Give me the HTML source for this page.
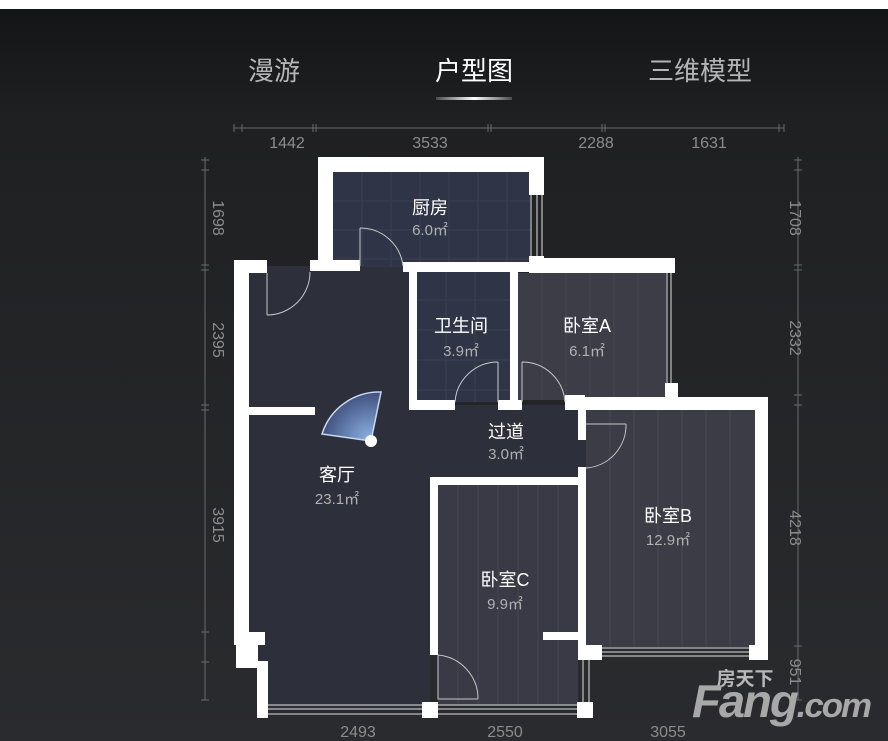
<!DOCTYPE html>
<html><head><meta charset="utf-8"><style>
html,body{margin:0;padding:0;width:888px;height:741px;overflow:hidden;background:#fff}
svg{display:block}
text{font-family:"Liberation Sans","Noto Sans CJK SC",sans-serif}
</style></head><body>
<svg width="888" height="741" viewBox="0 0 888 741" xmlns="http://www.w3.org/2000/svg">
<defs>
<linearGradient id="bg" x1="0" y1="0" x2="0" y2="1">
<stop offset="0" stop-color="#141517"/><stop offset="0.15" stop-color="#1f2022"/><stop offset="1" stop-color="#2a2b2e"/>
</linearGradient>
<linearGradient id="ul" x1="0" x2="1">
<stop offset="0" stop-color="#fff" stop-opacity="0.2"/><stop offset="0.5" stop-color="#fff"/><stop offset="1" stop-color="#fff" stop-opacity="0.2"/>
</linearGradient>
<radialGradient id="fan" cx="371" cy="441" r="60" gradientUnits="userSpaceOnUse">
<stop offset="0" stop-color="#8fb6e8"/><stop offset="1" stop-color="#2f3a66"/>
</radialGradient>
</defs>
<rect x="0" y="9" width="888" height="732" fill="url(#bg)"/>
<!-- tabs -->
<text x="274" y="80" font-size="26" fill="#b5b5b5" text-anchor="middle">漫游</text>
<text x="474" y="80" font-size="26" fill="#ffffff" text-anchor="middle">户型图</text>
<text x="700" y="80" font-size="26" fill="#b5b5b5" text-anchor="middle">三维模型</text>
<rect x="436" y="97" width="76" height="3" fill="url(#ul)"/>
<!-- dimension lines -->
<g stroke="#6a6a6a" stroke-width="1" fill="none">
<line x1="234" y1="128" x2="784" y2="128"/>
<path d="M234 124v8M242 124v8M313 124v8M316 124v8M488 124v8M491 124v8M602 124v8M605 124v8M779 124v8M784 124v8"/>
<line x1="205" y1="157" x2="205" y2="700"/>
<path d="M201 160h8M201 170h8M201 265h8M201 270h8M201 405h8M201 410h8M201 632h8M201 662h8M201 700h8"/>
<line x1="798" y1="157" x2="798" y2="700"/>
<path d="M794 160h8M794 170h8M794 265h8M794 270h8M794 395h8M794 405h8M794 646h8M794 700h8"/>
</g>
<g fill="#8c8c8c" font-size="16" text-anchor="middle">
<text x="287" y="148">1442</text><text x="430" y="148">3533</text><text x="596" y="148">2288</text><text x="709" y="148">1631</text>
<text x="358" y="737">2493</text><text x="505" y="737">2550</text><text x="668" y="737">3055</text>
<text transform="translate(213,218) rotate(90)">1698</text>
<text transform="translate(213,340) rotate(90)">2395</text>
<text transform="translate(213,525) rotate(90)">3915</text>
<text transform="translate(790,218) rotate(90)">1708</text>
<text transform="translate(790,338) rotate(90)">2332</text>
<text transform="translate(790,528) rotate(90)">4218</text>
<text transform="translate(790,672) rotate(90)">951</text>
</g>
<!-- floors -->
<polygon points="249,266 415,266 415,405 586,405 586,480 430,480 430,710 268,710 268,668 258,668 258,645 249,645" fill="#2d2f3a"/>
<rect x="333" y="172" width="197" height="95" fill="#2f3447"/>
<rect x="417" y="272" width="93" height="130" fill="#2f3447"/>
<rect x="518" y="273" width="148" height="127" fill="#3d3d48"/>
<rect x="586" y="410" width="170" height="237" fill="#3c3c47"/>
<rect x="438" y="485" width="140" height="220" fill="#393a45"/>
<!-- floor grid -->
<g stroke="#ffffff" stroke-opacity="0.06">
<path d="M362 172v95M391 172v95M420 172v95M449 172v95M478 172v95M507 172v95M333 201h197M333 230h197M333 259h197"/>
<path d="M446 272v130M475 272v130M417 300h93M417 330h93M417 360h93M417 390h93"/>
<path d="M542 273v127M566 273v127M590 273v127M614 273v127M638 273v127"/>
<path d="M610 410v237M634 410v237M658 410v237M682 410v237M706 410v237M730 410v237"/>
<path d="M458 485v220M478 485v220M498 485v220M518 485v220M538 485v220M558 485v220"/>
</g>
<!-- walls -->
<g fill="#ffffff">
<rect x="318" y="157" width="226" height="15"/>
<rect x="318" y="157" width="15" height="113"/>
<rect x="529" y="157" width="15" height="38"/>
<rect x="529" y="256" width="15" height="17"/>
<rect x="234" y="260" width="33" height="13"/>
<rect x="234" y="260" width="15" height="383"/>
<rect x="310" y="260" width="50" height="11"/>
<rect x="403" y="262" width="127" height="10"/>
<rect x="530" y="258" width="145" height="15"/>
<rect x="409" y="262" width="8" height="148"/>
<rect x="409" y="400" width="46" height="10"/>
<rect x="498" y="400" width="24" height="10"/>
<rect x="510" y="272" width="8" height="138"/>
<rect x="565" y="395" width="20" height="15"/>
<rect x="665" y="383" width="13" height="22"/>
<rect x="578" y="397" width="190" height="13"/>
<rect x="578" y="397" width="8" height="43"/>
<rect x="578" y="467" width="8" height="193"/>
<rect x="755" y="397" width="13" height="263"/>
<rect x="578" y="645" width="24" height="15"/>
<rect x="749" y="645" width="19" height="15"/>
<rect x="249" y="407" width="66" height="8"/>
<rect x="430" y="477" width="155" height="8"/>
<rect x="430" y="477" width="8" height="178"/>
<rect x="543" y="632" width="35" height="8"/>
<rect x="234" y="632" width="31" height="13"/>
<rect x="236" y="645" width="22" height="23"/>
<rect x="257" y="661" width="11" height="57"/>
<rect x="422" y="702" width="16" height="16"/>
<rect x="577" y="702" width="16" height="16"/>
</g>
<!-- windows -->
<g stroke="#e0e0e0" stroke-width="1" fill="none">
<path d="M531 195v61M537 195v61M542 195v61"/>
<path d="M667 273v110M671 273v110"/>
<path d="M602 648h147M602 652h147M602 656h147"/>
<path d="M268 705h154M268 709h154M268 714h154"/>
<path d="M438 705h139M438 709h139M438 714h139"/>
<path d="M583 660v42M589 660v42"/>
</g>
<!-- doors -->
<g stroke="#c8c8c8" stroke-width="1" fill="none">
<path d="M360 228v38M360 228a43 43 0 0 1 43 38"/>
<path d="M267 273v42M267 315a43 43 0 0 0 43 -43"/>
<path d="M498 362v40M498 362a43 43 0 0 0 -43 40"/>
<path d="M522 362v40M522 362a43 43 0 0 1 43 40"/>
<path d="M586 424h40M626 424a43 43 0 0 1 -40 44"/>
<path d="M438 655v44h40M438 655a44 44 0 0 1 40 44"/>
</g>
<!-- compass fan -->
<path d="M371 441 L322 434 A60 60 0 0 1 381 392 Z" fill="url(#fan)" stroke="#c8d8f0" stroke-width="1.5"/>
<circle cx="371" cy="441" r="6" fill="#fff"/>
<!-- labels -->
<g text-anchor="middle">
<g fill="#ffffff" font-size="18">
<text x="430" y="214">厨房</text>
<text x="461" y="332">卫生间</text>
<text x="587" y="332">卧室A</text>
<text x="506" y="438">过道</text>
<text x="337" y="481">客厅</text>
<text x="668" y="522">卧室B</text>
<text x="505" y="586">卧室C</text>
</g>
<g fill="#b0b0b0" font-size="15">
<text x="430" y="235">6.0㎡</text>
<text x="461" y="356">3.9㎡</text>
<text x="587" y="356">6.1㎡</text>
<text x="506" y="459">3.0㎡</text>
<text x="337" y="504">23.1㎡</text>
<text x="668" y="545">12.9㎡</text>
<text x="505" y="609">9.9㎡</text>
</g>
</g>
<!-- watermark -->
<text x="745" y="685" font-size="19" font-weight="bold" fill="#b8b8b8" text-anchor="middle">房天下</text>
<text x="692" y="717" font-size="46" font-weight="bold" fill="#a8a8a8" font-style="italic" letter-spacing="-2" textLength="178" lengthAdjust="spacingAndGlyphs">Fang<tspan font-size="34">.com</tspan></text>
</svg>
</body></html>
